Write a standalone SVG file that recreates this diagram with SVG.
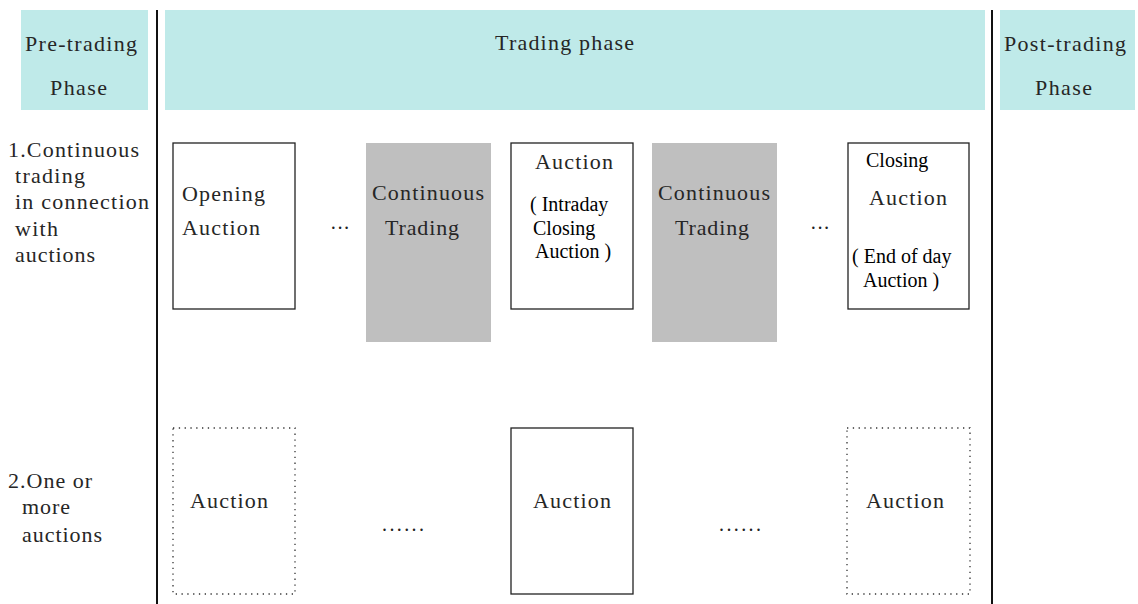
<svg xmlns="http://www.w3.org/2000/svg" width="1138" height="604" viewBox="0 0 1138 604">
<style>
.hdr{fill:#bfeae9;stroke:none}
.cm{font-family:"Liberation Serif","Times New Roman",serif;font-size:22px;fill:#262626}
.tm{font-family:"Liberation Serif","Times New Roman",serif;font-size:20px;fill:#000}
.box{fill:#fff;stroke:#222;stroke-width:1.3}
.gray{fill:#bfbfbf;stroke:none}
.dot{fill:#fff;stroke:#333;stroke-width:1.3;stroke-dasharray:1.3 4.5}
.sep{stroke:#111;stroke-width:2;fill:none}
.ell{font-family:"Liberation Serif","Times New Roman",serif;font-size:20px;fill:#222}
</style>
<rect width="1138" height="604" fill="#fff"/>
<g id="pre-trading">
<rect class="hdr" x="21" y="10" width="127" height="100"/>
<text class="cm" x="25" y="51" textLength="112" lengthAdjust="spacing">Pre-trading</text>
<text class="cm" x="50" y="95" textLength="57" lengthAdjust="spacing">Phase</text>
</g>
<g id="trading-phase">
<rect class="hdr" x="165" y="10" width="820" height="100"/>
<text class="cm" x="495" y="50" textLength="139" lengthAdjust="spacing">Trading phase</text>
</g>
<g id="post-trading">
<rect class="hdr" x="1000" y="10" width="135" height="100"/>
<text class="cm" x="1004" y="51" textLength="122" lengthAdjust="spacing">Post-trading</text>
<text class="cm" x="1035" y="95" textLength="57" lengthAdjust="spacing">Phase</text>
</g>
<g id="connectors">
<line class="sep" x1="157" y1="10" x2="157" y2="604"/>
<line class="sep" x1="992" y1="10" x2="992" y2="604"/>
</g>
<g id="label-row1">
<text class="cm" x="8" y="157" textLength="131" lengthAdjust="spacing">1.Continuous</text>
<text class="cm" x="15" y="183" textLength="70" lengthAdjust="spacing">trading</text>
<text class="cm" x="15" y="209" textLength="134" lengthAdjust="spacing">in connection</text>
<text class="cm" x="15" y="236" textLength="43" lengthAdjust="spacing">with</text>
<text class="cm" x="15" y="262" textLength="80" lengthAdjust="spacing">auctions</text>
</g>
<g id="opening-auction">
<rect class="box" x="173" y="143" width="122" height="166"/>
<text class="cm" x="182" y="201" textLength="83" lengthAdjust="spacing">Opening</text>
<text class="cm" x="182" y="235" textLength="78" lengthAdjust="spacing">Auction</text>
</g>
<g id="dots-1">
<text class="ell" x="330" y="235">···</text>
</g>
<g id="continuous-trading-1">
<rect class="gray" x="366" y="143" width="125" height="199"/>
<text class="cm" x="372" y="200" textLength="112" lengthAdjust="spacing">Continuous</text>
<text class="cm" x="385" y="235" textLength="74" lengthAdjust="spacing">Trading</text>
</g>
<g id="intraday-auction">
<rect class="box" x="511" y="143" width="122" height="166"/>
<text class="cm" x="535" y="169" textLength="78" lengthAdjust="spacing">Auction</text>
<text class="tm" x="530" y="211">( Intraday</text>
<text class="tm" x="533" y="235">Closing</text>
<text class="tm" x="535" y="258">Auction )</text>
</g>
<g id="continuous-trading-2">
<rect class="gray" x="652" y="143" width="125" height="199"/>
<text class="cm" x="658" y="200" textLength="112" lengthAdjust="spacing">Continuous</text>
<text class="cm" x="675" y="235" textLength="74" lengthAdjust="spacing">Trading</text>
</g>
<g id="dots-2">
<text class="ell" x="810" y="235">···</text>
</g>
<g id="closing-auction">
<rect class="box" x="848" y="143" width="121" height="166"/>
<text class="tm" x="866" y="167">Closing</text>
<text class="cm" x="869" y="205" textLength="78" lengthAdjust="spacing">Auction</text>
<text class="tm" x="852" y="263">( End of day</text>
<text class="tm" x="863" y="287">Auction )</text>
</g>
<g id="label-row2">
<text class="cm" x="8" y="488" textLength="84" lengthAdjust="spacing">2.One or</text>
<text class="cm" x="22" y="514" textLength="48" lengthAdjust="spacing">more</text>
<text class="cm" x="22" y="542" textLength="80" lengthAdjust="spacing">auctions</text>
</g>
<g id="auction-a">
<rect class="dot" x="173" y="428" width="122" height="166"/>
<text class="cm" x="190" y="508" textLength="78" lengthAdjust="spacing">Auction</text>
</g>
<g id="dots-3">
<text class="ell" x="382" y="531" textLength="42" lengthAdjust="spacing">......</text>
</g>
<g id="auction-b">
<rect class="box" x="511" y="428" width="122" height="166"/>
<text class="cm" x="533" y="508" textLength="78" lengthAdjust="spacing">Auction</text>
</g>
<g id="dots-4">
<text class="ell" x="719" y="531" textLength="42" lengthAdjust="spacing">......</text>
</g>
<g id="auction-c">
<rect class="dot" x="847" y="428" width="123" height="166"/>
<text class="cm" x="866" y="508" textLength="78" lengthAdjust="spacing">Auction</text>
</g>
</svg>
